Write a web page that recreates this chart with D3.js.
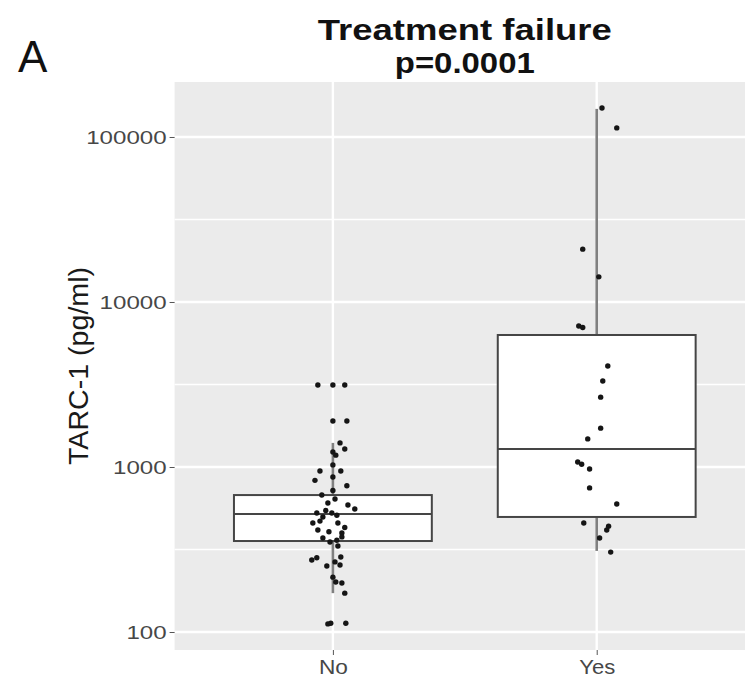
<!DOCTYPE html>
<html>
<head>
<meta charset="utf-8">
<script src="https://cdn.jsdelivr.net/npm/d3@7"></script>
<style>
  html, body { margin: 0; padding: 0; background: #ffffff; }
  svg { display: block; font-family: "Liberation Sans", Arial, sans-serif; }
</style>
</head>
<body>
<svg id="chart" width="745" height="682"></svg>
<script>
// ---------- data ----------
const categories = ["No", "Yes"];
const q1 = [356, 498];
const median = [519, 1285];
const q3 = [676, 6310];
const whiskerLow = [172, 310];
const whiskerHigh = [1400, 148000];

const noValues = [3140, 3140, 3140, 1900, 1900, 1400, 1285, 1233, 946, 830, 870, 946, 770,
  676, 605, 640, 589, 557, 526, 498, 526, 458, 470, 458, 398, 371, 351, 360, 377,
  273, 282, 251, 266, 285, 255, 215, 201, 198, 172, 112, 113, 113,
  545, 510, 430, 415, 405, 1180, 1030, 720, 332];
const noJitter = [-0.057, 0, 0.045, 0, 0.053, 0.027, 0.045, 0, -0.049, -0.068, 0, 0.03, 0.053,
  -0.042, -0.019, 0.008, 0.057, 0.083, -0.061, -0.038, -0.004, -0.076, -0.049, 0.019, 0.034, -0.038, -0.011, 0.015, 0.034,
  -0.08, -0.061, -0.023, 0.008, 0.03, 0.027, 0, 0.011, 0.034, 0.045, -0.019, -0.008, 0.049,
  -0.027, 0.015, 0.045, -0.057, -0.015, 0.011, 0, 0, 0.019];

const yesValues = [150000, 113500, 20900, 14200, 7160, 7000, 4090, 3320, 2650, 1720, 1480,
  1072, 1040, 973, 747, 597, 458, 438, 415, 371, 305];
const yesJitter = [0.02, 0.076, -0.053, 0.008, -0.068, -0.053, 0.042, 0.023, 0.015, 0.015, -0.034,
  -0.072, -0.057, -0.027, -0.027, 0.076, -0.049, 0.045, 0.038, 0.011, 0.053];

const yTicks = [100, 1000, 10000, 100000];
const yMinor = [316.228, 3162.28, 31622.8];
const title1 = "Treatment failure";
const title2 = "p=0.0001";
const yTitle = "TARC-1 (pg/ml)";
const panelLabel = "A";

// ---------- layout ----------
const svg = d3.select("#chart");
const panel = { left: 174.6, right: 755, top: 82, bottom: 650 };

const x = d3.scalePoint().domain(categories).range([panel.left, panel.right]).padding(0.6);
const step = x.step();
const y = d3.scaleLog().domain([77.8, 215400]).range([panel.bottom, panel.top]);

// panel background
svg.append("rect")
  .attr("x", panel.left).attr("y", panel.top)
  .attr("width", panel.right - panel.left).attr("height", panel.bottom - panel.top)
  .attr("fill", "#ebebeb");

// minor gridlines
svg.append("g").selectAll("line").data(yMinor).join("line")
  .attr("x1", panel.left).attr("x2", panel.right)
  .attr("y1", d => y(d)).attr("y2", d => y(d))
  .attr("stroke", "#ffffff").attr("stroke-width", 1.6);

// major gridlines
svg.append("g").selectAll("line").data(yTicks).join("line")
  .attr("x1", panel.left).attr("x2", panel.right)
  .attr("y1", d => y(d)).attr("y2", d => y(d))
  .attr("stroke", "#ffffff").attr("stroke-width", 2.4);
svg.append("g").selectAll("line").data(categories).join("line")
  .attr("x1", d => x(d)).attr("x2", d => x(d))
  .attr("y1", panel.top).attr("y2", panel.bottom)
  .attr("stroke", "#ffffff").attr("stroke-width", 2.4);

// boxplots
const boxW = step * 0.75;
const boxes = svg.append("g");
categories.forEach((c, i) => {
  const cx = x(c);
  boxes.append("line").attr("x1", cx).attr("x2", cx)
    .attr("y1", y(q3[i])).attr("y2", y(whiskerHigh[i]))
    .attr("stroke", "#808080").attr("stroke-width", 2.6);
  boxes.append("line").attr("x1", cx).attr("x2", cx)
    .attr("y1", y(q1[i])).attr("y2", y(whiskerLow[i]))
    .attr("stroke", "#808080").attr("stroke-width", 2.6);
  boxes.append("rect")
    .attr("x", cx - boxW / 2).attr("y", y(q3[i]))
    .attr("width", boxW).attr("height", y(q1[i]) - y(q3[i]))
    .attr("fill", "#ffffff").attr("stroke", "#454545").attr("stroke-width", 2);
  boxes.append("line")
    .attr("x1", cx - boxW / 2).attr("x2", cx + boxW / 2)
    .attr("y1", y(median[i])).attr("y2", y(median[i]))
    .attr("stroke", "#454545").attr("stroke-width", 2);
});

// jittered points
const pts = svg.append("g");
pts.selectAll("circle.no").data(noValues).join("circle").attr("class", "no")
  .attr("cx", (d, i) => x("No") + noJitter[i] * step)
  .attr("cy", d => y(d)).attr("r", 2.7).attr("fill", "#151515");
pts.selectAll("circle.yes").data(yesValues).join("circle").attr("class", "yes")
  .attr("cx", (d, i) => x("Yes") + yesJitter[i] * step)
  .attr("cy", d => y(d)).attr("r", 2.7).attr("fill", "#151515");

// y axis
const yAxis = svg.append("g")
  .attr("transform", `translate(${panel.left},0)`)
  .call(d3.axisLeft(y).tickValues(yTicks).tickFormat(d3.format("d")).tickSize(5).tickPadding(3));
yAxis.select(".domain").remove();
yAxis.selectAll(".tick line").attr("stroke", "#555555").attr("stroke-width", 1);
yAxis.selectAll(".tick text").attr("fill", "#474747").attr("font-size", 19)
  .attr("font-family", "Liberation Sans, Arial, sans-serif")
  .attr("textLength", d => 13.4 * String(d).length)
  .attr("lengthAdjust", "spacingAndGlyphs");

// x axis
const xAxis = svg.append("g")
  .attr("transform", `translate(0,${panel.bottom})`)
  .call(d3.axisBottom(x).tickSize(5).tickPadding(4));
xAxis.select(".domain").remove();
xAxis.selectAll(".tick line").attr("stroke", "#555555").attr("stroke-width", 1);
xAxis.selectAll(".tick text").attr("fill", "#474747").attr("font-size", 21)
  .attr("font-family", "Liberation Sans, Arial, sans-serif")
  .attr("textLength", d => d === "No" ? 29 : 36)
  .attr("lengthAdjust", "spacingAndGlyphs");

// y title
svg.append("text")
  .attr("transform", `translate(88,${(panel.top + panel.bottom) / 2}) rotate(-90)`)
  .attr("text-anchor", "middle")
  .attr("font-size", 27).attr("fill", "#1a1a1a")
  .attr("textLength", 198).attr("lengthAdjust", "spacingAndGlyphs")
  .text(yTitle);

// titles
const tcx = (panel.left + panel.right) / 2;
svg.append("text").attr("x", tcx).attr("y", 39.5)
  .attr("text-anchor", "middle").attr("font-size", 29).attr("font-weight", "bold")
  .attr("fill", "#111111")
  .attr("textLength", 294).attr("lengthAdjust", "spacingAndGlyphs")
  .text(title1);
svg.append("text").attr("x", tcx).attr("y", 72.5)
  .attr("text-anchor", "middle").attr("font-size", 29).attr("font-weight", "bold")
  .attr("fill", "#111111")
  .attr("textLength", 140).attr("lengthAdjust", "spacingAndGlyphs")
  .text(title2);

// panel label
svg.append("text").attr("x", 18).attr("y", 72)
  .attr("font-size", 44).attr("fill", "#111111").text(panelLabel);
</script>
</body>
</html>
